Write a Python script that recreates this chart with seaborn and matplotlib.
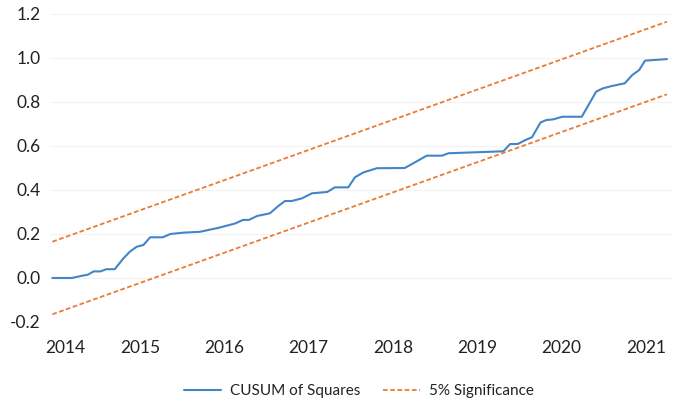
import numpy as np
import pandas as pd
import matplotlib
matplotlib.use("Agg")
import matplotlib.pyplot as plt
import matplotlib.transforms as mtransforms
import seaborn as sns

# CUSUM of squares
cusum_t = [2013.96, 2014.19, 2014.31, 2014.38, 2014.45, 2014.53, 2014.60, 2014.70,
           2014.80, 2014.88, 2014.96, 2015.04, 2015.12, 2015.27, 2015.36, 2015.51,
           2015.71, 2015.93, 2016.13, 2016.22, 2016.29, 2016.39, 2016.54, 2016.64,
           2016.72, 2016.80, 2016.92, 2017.04, 2017.22, 2017.31, 2017.47, 2017.55,
           2017.65, 2017.81, 2018.14, 2018.29, 2018.40, 2018.58, 2018.66, 2019.31,
           2019.39, 2019.48, 2019.57, 2019.65, 2019.75, 2019.82, 2019.90, 2020.01,
           2020.24, 2020.41, 2020.49, 2020.60, 2020.75, 2020.84, 2020.92, 2020.99,
           2021.25]
cusum_v = [0.000, 0.000, 0.010, 0.015, 0.030, 0.030, 0.040, 0.040,
           0.088, 0.120, 0.142, 0.150, 0.185, 0.185, 0.200, 0.206,
           0.210, 0.228, 0.248, 0.264, 0.264, 0.282, 0.294, 0.327,
           0.350, 0.350, 0.362, 0.385, 0.391, 0.412, 0.412, 0.458,
           0.480, 0.499, 0.500, 0.532, 0.556, 0.556, 0.567, 0.576,
           0.609, 0.609, 0.627, 0.640, 0.707, 0.718, 0.721, 0.733,
           0.733, 0.847, 0.862, 0.873, 0.885, 0.923, 0.945, 0.988,
           0.995]

# 5% significance bounds (endpoints)
bound_t = [2013.96, 2021.25]
upper_v = [0.165, 1.165]
lower_v = [-0.165, 0.835]

year_ticks = [2014, 2015, 2016, 2017, 2018, 2019, 2020, 2021]
y_ticks = [-0.2, 0.0, 0.2, 0.4, 0.6, 0.8, 1.0, 1.2]

sns.set_style("white")
plt.rcParams['font.family'] = ['Lato', 'DejaVu Sans']

W, H = 682, 408
fig = plt.figure(figsize=(W / 100, H / 100), dpi=100)
ax = fig.add_axes([50 / W, 1 - 322 / H, (672 - 50) / W, (322 - 14) / H])

blue = "#4385c6"
orange = "#ec7a35"

df_c = pd.DataFrame({"t": cusum_t, "v": cusum_v})
sns.lineplot(data=df_c, x="t", y="v", ax=ax, color=blue, linewidth=1.5,
             label="CUSUM of Squares")
df_u = pd.DataFrame({"t": bound_t, "v": upper_v})
df_l = pd.DataFrame({"t": bound_t, "v": lower_v})
sns.lineplot(data=df_u, x="t", y="v", ax=ax, color=orange, linewidth=1.3,
             linestyle=(0, (2.6, 1.4)), label="5% Significance")
sns.lineplot(data=df_l, x="t", y="v", ax=ax, color=orange, linewidth=1.3,
             linestyle=(0, (2.6, 1.4)))

ax.set_xlim(2013.932, 2021.31)
ax.set_ylim(-0.2, 1.2)
ax.set_yticks(y_ticks)
ax.set_yticklabels([f"{v:.1f}" for v in y_ticks])
ax.set_xticks(year_ticks)
ax.set_xticklabels([str(y) for y in year_ticks])
ax.tick_params(axis='both', length=0, labelsize=12.5, colors="#222222")
ax.tick_params(axis='y', pad=7)
ax.tick_params(axis='x', pad=13)
ax.set_xlabel("")
ax.set_ylabel("")
for s in ax.spines.values():
    s.set_visible(False)
ax.grid(axis='y', color="#f3f3f3", linewidth=0.8)
ax.set_axisbelow(True)

# first year label sits a little right of the axis edge in the reference
first = ax.get_xticklabels()[0]
first.set_transform(first.get_transform() +
                    mtransforms.ScaledTranslation(0.10, 0, fig.dpi_scale_trans))

leg = ax.legend(loc="center", bbox_to_anchor=(359 / W, 1 - 391 / H),
                bbox_transform=fig.transFigure, ncol=2, frameon=False,
                fontsize=11, handlelength=2.4, columnspacing=1.5,
                handletextpad=0.6)
for t in leg.get_texts():
    t.set_color("#222222")

fig.savefig("out.png", dpi=100)
